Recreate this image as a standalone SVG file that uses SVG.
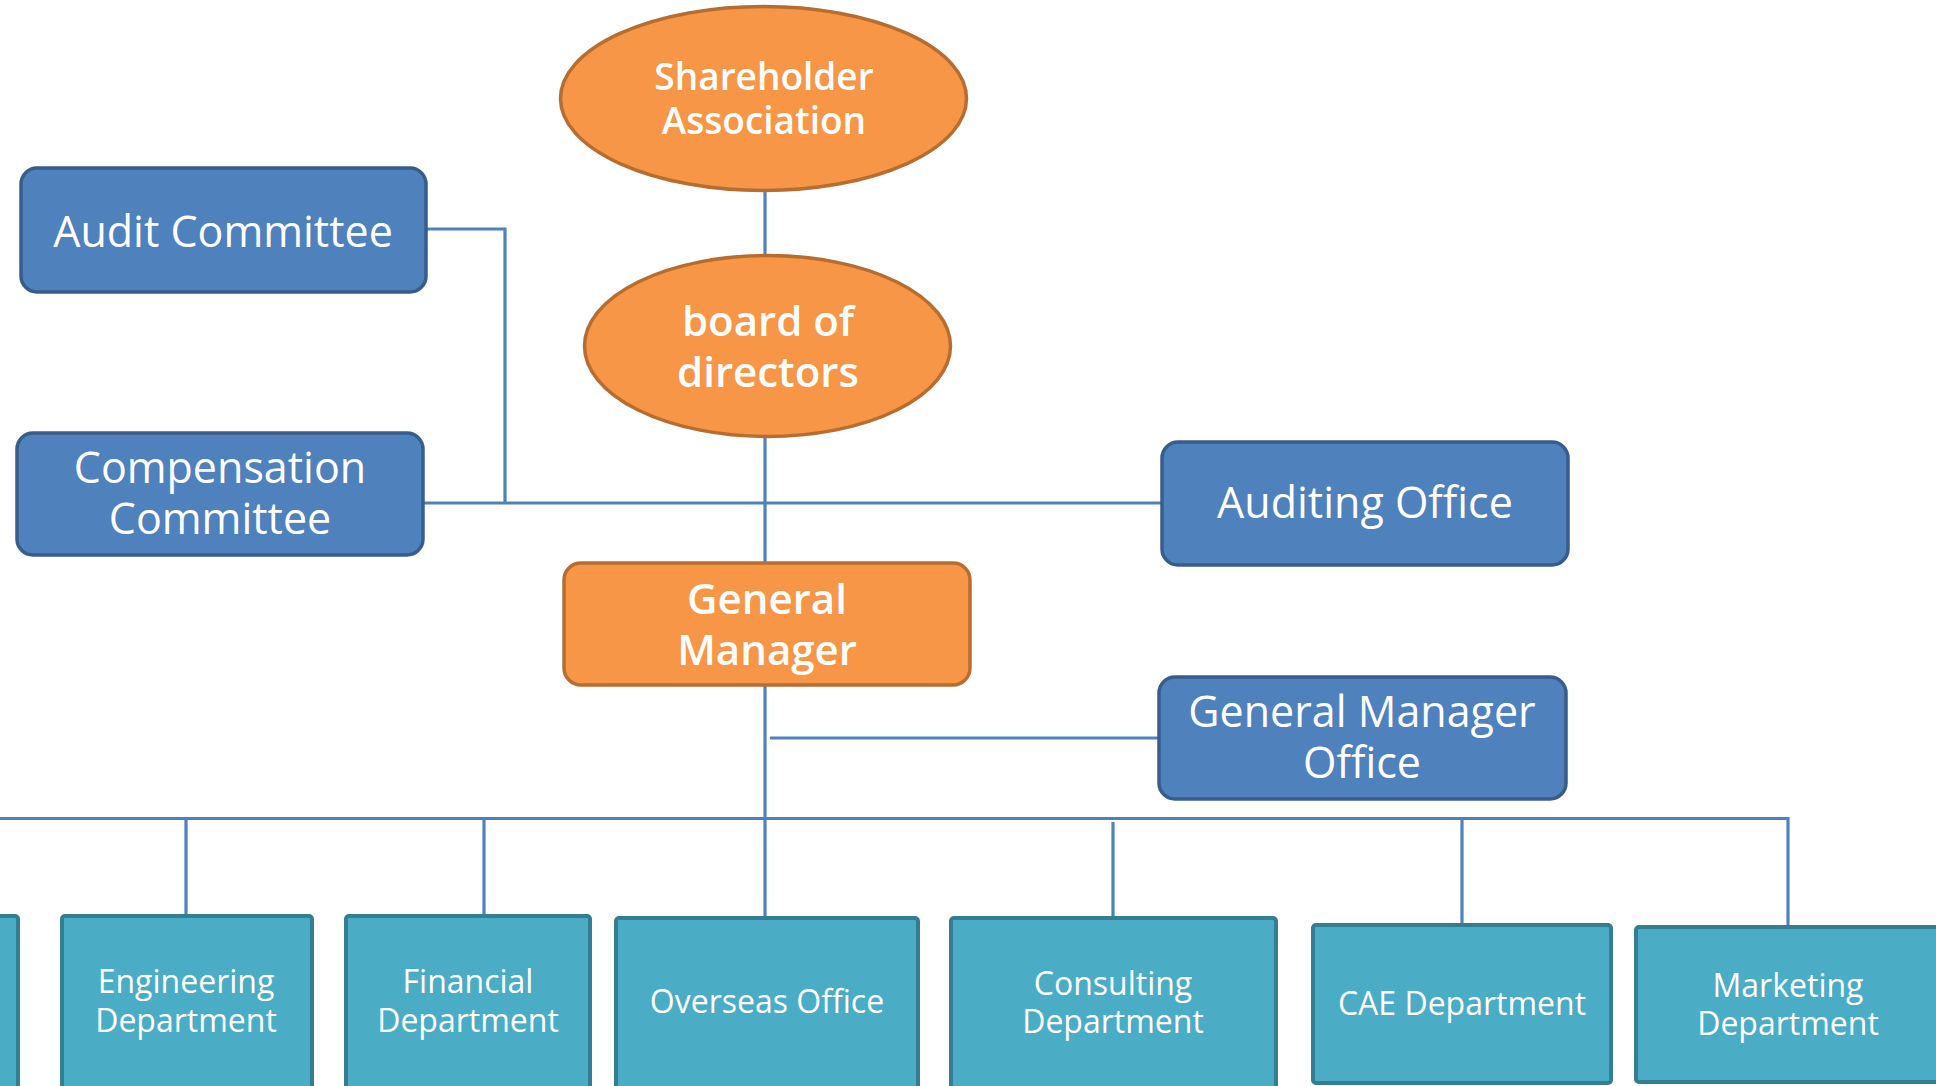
<svg xmlns="http://www.w3.org/2000/svg" width="1936" height="1086" viewBox="0 0 1936 1086">
<style>
.bg{fill:#FFFFFF}
.conn{fill:none;stroke:#4F81BD;stroke-width:3.2}
.orange{fill:#F79646;stroke:#B66D31;stroke-width:3.5}
.blue{fill:#4F81BD;stroke:#385D8A;stroke-width:3.5}
.teal{fill:#4BACC6;stroke:#357D91;stroke-width:4}
text{fill:#FFFFFF;font-family:"Open Sans","Noto Sans","DejaVu Sans",sans-serif;text-anchor:middle}
.tb{font-weight:600}
.t43{font-size:43px}
.t32{font-size:32px}
</style>
<rect class="bg" x="0" y="0" width="1936" height="1086"/>
<g id="connectors">
<line class="conn" x1="765" y1="190" x2="765" y2="256"/>
<line class="conn" x1="765" y1="436" x2="765" y2="564"/>
<path class="conn" d="M426,229 H505 V503"/>
<line class="conn" x1="423" y1="503" x2="1162" y2="503"/>
<line class="conn" x1="765" y1="685" x2="765" y2="918"/>
<line class="conn" x1="770" y1="738" x2="1159" y2="738"/>
<path class="conn" d="M0,818.5 H1788 V927"/>
<line class="conn" x1="186" y1="818" x2="186" y2="916"/>
<line class="conn" x1="484" y1="818" x2="484" y2="916"/>
<line class="conn" x1="1113" y1="822" x2="1113" y2="930"/>
<line class="conn" x1="1462" y1="818" x2="1462" y2="925"/>
</g>
<g id="shareholder-association">
<ellipse class="orange" cx="763.5" cy="98.5" rx="203" ry="92"/>
<text class="tb" x="764" y="90" style="font-size:37px">Shareholder</text>
<text class="tb" x="764" y="134" style="font-size:37px">Association</text>
</g>
<g id="board-of-directors">
<ellipse class="orange" cx="767.5" cy="346" rx="183" ry="90.5"/>
<text class="tb" x="768" y="336" style="font-size:42px">board of</text>
<text class="tb" x="768" y="387" style="font-size:42px">directors</text>
</g>
<g id="audit-committee">
<rect class="blue" x="21" y="168" width="405" height="124" rx="16"/>
<text class="t43" x="223" y="247">Audit Committee</text>
</g>
<g id="compensation-committee">
<rect class="blue" x="17" y="433" width="406" height="122" rx="16"/>
<text class="t43" x="220" y="483">Compensation</text>
<text class="t43" x="220" y="534">Committee</text>
</g>
<g id="auditing-office">
<rect class="blue" x="1162" y="442" width="406" height="123" rx="16"/>
<text class="t43" x="1365" y="518">Auditing Office</text>
</g>
<g id="general-manager">
<rect class="orange" x="564" y="563" width="406" height="122" rx="17"/>
<text class="tb" x="767" y="614" style="font-size:42px">General</text>
<text class="tb" x="767" y="665" style="font-size:42px">Manager</text>
</g>
<g id="general-manager-office">
<rect class="blue" x="1159" y="677" width="407" height="122" rx="16"/>
<text class="t43" x="1362" y="727">General Manager</text>
<text class="t43" x="1362" y="778">Office</text>
</g>
<g id="partial-department">
<rect class="teal" x="-20" y="916" width="38" height="190" rx="3"/>
</g>
<g id="engineering-department">
<rect class="teal" x="62" y="916" width="250" height="190" rx="3"/>
<text class="t32" x="186" y="993">Engineering</text>
<text class="t32" x="186" y="1032">Department</text>
</g>
<g id="financial-department">
<rect class="teal" x="346" y="916" width="244" height="190" rx="3"/>
<text class="t32" x="468" y="993">Financial</text>
<text class="t32" x="468" y="1032">Department</text>
</g>
<g id="overseas-office">
<rect class="teal" x="616" y="918" width="302" height="190" rx="3"/>
<text class="t32" x="767" y="1013">Overseas Office</text>
</g>
<g id="consulting-department">
<rect class="teal" x="951" y="918" width="325" height="190" rx="3"/>
<text class="t32" x="1113" y="995">Consulting</text>
<text class="t32" x="1113" y="1033">Department</text>
</g>
<g id="cae-department">
<rect class="teal" x="1313" y="925" width="298" height="158" rx="3"/>
<text class="t32" x="1462" y="1015">CAE Department</text>
</g>
<g id="marketing-department">
<rect class="teal" x="1636" y="927" width="320" height="155" rx="3"/>
<text class="t32" x="1788" y="997">Marketing</text>
<text class="t32" x="1788" y="1035">Department</text>
</g>
</svg>
